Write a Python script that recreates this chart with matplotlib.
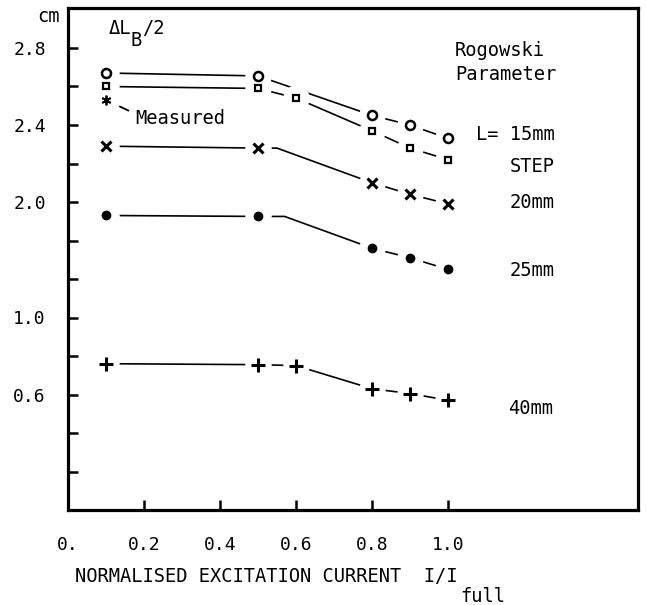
import numpy as np
import matplotlib.pyplot as plt
from matplotlib.transforms import Affine2D

plt.rcParams["font.family"] = ["DejaVu Sans Mono", "DejaVu Sans"]

# normalised excitation current I/I_full
x5 = [0.1, 0.5, 0.8, 0.9, 1.0]
x6 = [0.1, 0.5, 0.6, 0.8, 0.9, 1.0]

# dL_B/2 in cm for each Rogowski parameter
l15 = [2.67, 2.655, 2.45, 2.40, 2.33]
step = [2.60, 2.59, 2.54, 2.37, 2.28, 2.22]
l20 = [2.29, 2.28, 2.10, 2.04, 1.99]
l25 = [1.93, 1.925, 1.76, 1.71, 1.65]
l40 = [0.76, 0.755, 0.75, 0.63, 0.605, 0.57]
measured_x, measured = 0.1, 2.53

# the 20mm and 25mm curves stay flat a little past 0.5 before bending
knee20 = 0.55
knee25 = 0.57

ytick_vals = [0.6, 1.0, 2.0, 2.4, 2.8]
xtick_vals = [0, 0.2, 0.4, 0.6, 0.8, 1.0]
xtick_labels = ["0.", "0.2", "0.4", "0.6", "0.8", "1.0"]

BREAK = 0.4  # axis is cut: 1.0 cm and 2.0 cm are only 0.6 apart on paper


def yax(v):
    v = np.asarray(v, dtype=float)
    return np.where(v > 1.2, v - BREAK, v)


fig = plt.figure(figsize=(6.46, 6.05), dpi=100)
ax = fig.add_axes([68 / 646, 95 / 605, 570 / 646, 502 / 605])
ax.set_xlim(0, 1.5)
ax.set_ylim(0, 502 / 192.5)


def series(x, y, marker, ms, mew, fill, line_x=None, line_y=None):
    lx = x if line_x is None else line_x
    ly = y if line_y is None else line_y
    ax.plot(lx, yax(ly), color="k", lw=1.2, zorder=1, solid_capstyle="butt")
    # white disc behind each marker leaves the little gap seen on the original
    ax.plot(x, yax(y), ls="none", marker="o", ms=19, mfc="white", mec="none", zorder=2)
    ax.plot(x, yax(y), ls="none", marker=marker, ms=ms, mew=mew,
            mec="k", mfc=fill, zorder=3)


def with_knee(x, y, knee):
    lx = list(x[:2]) + [knee] + list(x[2:])
    ly = list(y[:2]) + [y[1]] + list(y[2:])
    return lx, ly


series(x5, l15, "o", 6.5, 1.8, "white")
series(x6, step, "s", 5, 1.6, "white")
lx, ly = with_knee(x5, l20, knee20)
series(x5, l20, "x", 7.5, 2.2, "k", lx, ly)
lx, ly = with_knee(x5, l25, knee25)
series(x5, l25, "o", 6, 1, "k", lx, ly)
series(x6, l40, "+", 10, 2.2, "k")

ax.plot([measured_x], yax([measured]), ls="none", marker=(6, 2, 0), ms=7,
        mew=1.3, color="k", zorder=3)
ax.annotate("Measured", xy=(measured_x, yax(measured)),
            xytext=((135 - 68) / 380, yax(2.434)), fontsize=13.5, va="center",
            arrowprops=dict(arrowstyle="-", lw=1.3, color="k",
                            shrinkA=3, shrinkB=11, relpos=(0, 0.75)))

for s in ax.spines.values():
    s.set_linewidth(2.3)

ax.set_xticks(xtick_vals)
ax.set_xticklabels(xtick_labels)
yt = np.round(np.arange(0.2, 2.41, 0.2), 2)
ax.set_yticks(yt)
lab = {round(float(yax(v)), 2): f"{v:.1f}" for v in ytick_vals}
ax.set_yticklabels([lab.get(round(t, 2), "") for t in yt])
ax.tick_params(direction="in", length=7, width=1.8, labelsize=13)
ax.tick_params(axis="x", pad=19)
ax.tick_params(axis="y", pad=16)

# text placed in pixel coordinates of the 646x605 picture (y from top)
px = Affine2D().scale(1, -1).translate(0, 605)
kw = dict(transform=px, fontsize=13.5, va="center", ha="left")
fig.text(37, 17, "cm", **kw)
fig.text(109, 29, "\u0394L", **kw)
fig.text(131, 40, "B", **kw)
fig.text(142, 29, "/2", **kw)
fig.text(455, 51, "Rogowski", **kw)
fig.text(455, 74, "Parameter", **kw)
fig.text(476, 134, "L= 15mm", **kw)
fig.text(510, 167, "STEP", **kw)
fig.text(510, 202, "20mm", **kw)
fig.text(510, 270, "25mm", **kw)
fig.text(508, 408, "40mm", **kw)
fig.text(75, 576, "NORMALISED EXCITATION CURRENT  I/I", **kw)
fig.text(460, 596, "full", **kw)

fig.savefig("out.png", dpi=100)
